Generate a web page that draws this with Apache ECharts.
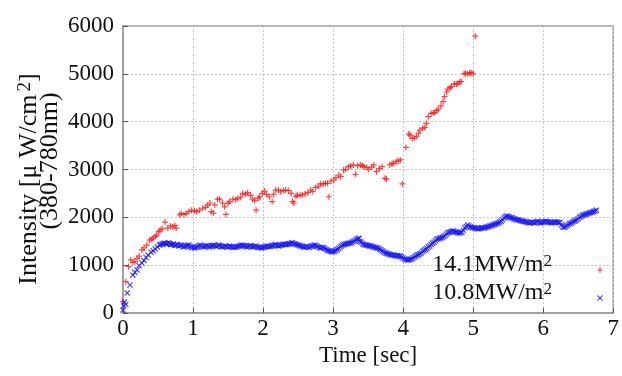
<!DOCTYPE html>
<html>
<head>
<meta charset="utf-8">
<script src="https://cdn.jsdelivr.net/npm/echarts@6/dist/echarts.min.js"></script>
<style>
  html, body { margin: 0; padding: 0; background: #fff; }
  #chart { width: 622px; height: 376px; }
</style>
</head>
<body>
<div id="chart"></div>
<script>
// 14.1MW/m2, [time sec, intensity]
var series141 = [
  [0.00, 236], [0.04, 655], [0.08, 970], [0.11, 1110], [0.14, 1060], [0.17, 1070],
  [0.20, 1140], [0.23, 1190], [0.27, 1320], [0.30, 1360], [0.34, 1420], [0.38, 1525],
  [0.41, 1540], [0.43, 1565], [0.46, 1600], [0.48, 1630], [0.51, 1700], [0.53, 1735],
  [0.56, 1760], [0.60, 1900], [0.64, 1775], [0.68, 1820], [0.71, 1800], [0.74, 1830],
  [0.76, 1775], [0.81, 2050], [0.83, 2080], [0.87, 2060], [0.90, 2080], [0.94, 2120],
  [0.98, 2150], [1.02, 2130], [1.05, 2120], [1.09, 2150], [1.14, 2190], [1.18, 2210],
  [1.21, 2260], [1.24, 2300], [1.26, 2120], [1.29, 2090], [1.31, 2260], [1.35, 2380],
  [1.38, 2380], [1.42, 2300], [1.45, 2220], [1.47, 2060], [1.50, 2290], [1.52, 2330],
  [1.57, 2380], [1.61, 2370], [1.64, 2400], [1.68, 2420], [1.71, 2500], [1.75, 2480],
  [1.78, 2515], [1.82, 2460], [1.85, 2380], [1.88, 2350], [1.90, 2150], [1.93, 2400],
  [1.95, 2430], [1.99, 2500], [2.02, 2550], [2.05, 2480], [2.09, 2430], [2.13, 2330],
  [2.15, 2480], [2.18, 2570], [2.22, 2570], [2.25, 2535], [2.29, 2560], [2.32, 2570],
  [2.36, 2560], [2.40, 2500], [2.42, 2330], [2.44, 2300], [2.47, 2440], [2.49, 2465],
  [2.53, 2460], [2.56, 2470], [2.60, 2490], [2.64, 2520], [2.68, 2570], [2.71, 2540],
  [2.75, 2625], [2.79, 2650], [2.82, 2700], [2.86, 2700], [2.89, 2710], [2.92, 2710],
  [2.94, 2430], [2.97, 2760], [3.01, 2780], [3.04, 2830], [3.08, 2885], [3.11, 2850],
  [3.15, 2990], [3.18, 3000], [3.22, 3060], [3.25, 3075], [3.29, 3095], [3.32, 2900],
  [3.35, 3080], [3.39, 3095], [3.42, 3080], [3.44, 3060], [3.48, 3040], [3.51, 3000],
  [3.55, 3050], [3.58, 3095], [3.62, 2955], [3.66, 3020], [3.70, 3060], [3.74, 2815],
  [3.76, 2800], [3.81, 3095], [3.84, 3120], [3.86, 3130], [3.90, 3160], [3.93, 3180],
  [3.96, 3200], [3.99, 2700], [4.04, 3460], [4.08, 3740], [4.10, 3720], [4.13, 3650],
  [4.16, 3660], [4.19, 3690], [4.22, 3760], [4.24, 3825], [4.28, 3860], [4.31, 3880],
  [4.33, 3965], [4.36, 4105], [4.40, 4175], [4.43, 4180], [4.45, 4190], [4.48, 4230],
  [4.50, 4260], [4.54, 4330], [4.57, 4420], [4.59, 4525], [4.62, 4620], [4.64, 4680],
  [4.67, 4710], [4.69, 4735], [4.73, 4790], [4.76, 4780], [4.78, 4800], [4.81, 4830],
  [4.83, 4840], [4.87, 5000], [4.89, 5010], [4.92, 5000], [4.95, 5020], [4.97, 5025],
  [5.00, 5000], [5.03, 5790]
]

// 10.8MW/m2
var series108 = [
  [0.00, 60], [0.01, 150], [0.02, 230], [0.04, 180], [0.06, 420], [0.10, 585],
  [0.14, 790], [0.17, 850], [0.20, 900], [0.23, 990], [0.27, 1045], [0.30, 1100],
  [0.33, 1160], [0.36, 1210], [0.40, 1270], [0.43, 1300], [0.46, 1340], [0.49, 1380],
  [0.52, 1420], [0.56, 1440], [0.60, 1460], [0.63, 1440], [0.67, 1450], [0.70, 1430],
  [0.74, 1410], [0.78, 1430], [0.82, 1420], [0.86, 1380], [0.90, 1400], [0.94, 1420],
  [0.98, 1370], [1.02, 1360], [1.06, 1380], [1.10, 1420], [1.14, 1380], [1.18, 1400],
  [1.22, 1390], [1.26, 1400], [1.30, 1420], [1.34, 1390], [1.38, 1410], [1.42, 1380],
  [1.46, 1400], [1.50, 1380], [1.54, 1390], [1.58, 1370], [1.62, 1380], [1.66, 1400],
  [1.70, 1420], [1.74, 1400], [1.78, 1390], [1.82, 1410], [1.86, 1380], [1.90, 1400],
  [1.94, 1370], [1.98, 1360], [2.02, 1380], [2.06, 1400], [2.10, 1390], [2.14, 1410],
  [2.18, 1430], [2.22, 1400], [2.26, 1420], [2.30, 1440], [2.34, 1430], [2.38, 1450],
  [2.42, 1470], [2.46, 1440], [2.50, 1420], [2.54, 1400], [2.58, 1380], [2.62, 1390],
  [2.66, 1370], [2.70, 1400], [2.74, 1420], [2.78, 1390], [2.82, 1360], [2.86, 1370],
  [2.90, 1330], [2.94, 1300], [2.98, 1280], [3.02, 1290], [3.06, 1330], [3.10, 1380],
  [3.14, 1420], [3.18, 1440], [3.22, 1460], [3.26, 1470], [3.30, 1500], [3.34, 1540],
  [3.37, 1565], [3.40, 1480], [3.44, 1430], [3.48, 1420], [3.52, 1400], [3.56, 1390],
  [3.60, 1370], [3.64, 1360], [3.68, 1320], [3.72, 1280], [3.76, 1250], [3.80, 1230],
  [3.84, 1210], [3.88, 1200], [3.92, 1200], [3.96, 1190], [4.00, 1150], [4.04, 1120],
  [4.08, 1110], [4.12, 1130], [4.16, 1170], [4.20, 1210], [4.24, 1240], [4.28, 1290],
  [4.32, 1330], [4.36, 1380], [4.40, 1430], [4.44, 1480], [4.48, 1540], [4.52, 1565],
  [4.56, 1580], [4.60, 1620], [4.64, 1680], [4.68, 1700], [4.72, 1715], [4.76, 1690],
  [4.80, 1670], [4.84, 1690], [4.88, 1780], [4.92, 1840], [4.96, 1800], [5.00, 1780],
  [5.04, 1770], [5.08, 1760], [5.12, 1780], [5.16, 1775], [5.20, 1800], [5.24, 1820],
  [5.28, 1840], [5.32, 1860], [5.36, 1880], [5.40, 1920], [5.44, 1985], [5.48, 2030],
  [5.52, 2000], [5.56, 1990], [5.60, 1960], [5.64, 1950], [5.68, 1930], [5.72, 1920],
  [5.76, 1900], [5.80, 1880], [5.84, 1900], [5.88, 1880], [5.92, 1920], [5.96, 1880],
  [6.00, 1900], [6.04, 1920], [6.08, 1900], [6.12, 1880], [6.16, 1900], [6.20, 1900],
  [6.24, 1890], [6.28, 1800], [6.32, 1810], [6.36, 1850], [6.40, 1880], [6.44, 1920],
  [6.48, 1950], [6.52, 2000], [6.56, 2040], [6.60, 2060], [6.64, 2080], [6.68, 2100],
  [6.72, 2120], [6.76, 2150],
  // in-between frames
  [0.54, 1430], [0.58, 1460], [0.62, 1450], [0.65, 1470], [0.68, 1430], [0.72, 1440],
  [0.76, 1420], [0.80, 1400], [0.84, 1410], [0.88, 1390], [0.92, 1410], [0.96, 1390],
  [1.00, 1380], [1.04, 1370], [1.08, 1400], [1.12, 1400], [1.16, 1390], [1.20, 1410],
  [1.24, 1380], [1.28, 1410], [1.32, 1400], [1.36, 1420], [1.40, 1390], [1.44, 1390],
  [1.48, 1390], [1.52, 1400], [1.56, 1380], [1.60, 1380], [1.64, 1390], [1.68, 1410],
  [1.72, 1410], [1.76, 1380], [1.80, 1400], [1.84, 1390], [1.88, 1390], [1.92, 1380],
  [1.96, 1370], [2.00, 1370], [2.04, 1390], [2.08, 1390], [2.12, 1400], [2.16, 1420],
  [2.20, 1410], [2.24, 1410], [2.28, 1430], [2.32, 1430], [2.36, 1440], [2.40, 1460],
  [2.44, 1450], [2.48, 1430], [2.52, 1410], [2.56, 1390], [2.60, 1380], [2.64, 1380],
  [2.68, 1390], [2.72, 1410], [2.76, 1400], [2.80, 1370], [2.84, 1370], [2.88, 1350],
  [2.92, 1310], [2.96, 1290], [3.00, 1280], [3.04, 1310], [3.08, 1350], [3.12, 1400],
  [3.16, 1430], [3.20, 1450], [3.24, 1460], [3.28, 1490], [3.32, 1520], [3.36, 1550],
  [3.38, 1500], [3.42, 1450], [3.46, 1420], [3.50, 1410], [3.54, 1400], [3.58, 1380],
  [3.62, 1360], [3.66, 1340], [3.70, 1300], [3.74, 1260], [3.78, 1240], [3.82, 1220],
  [3.86, 1210], [3.90, 1190], [3.94, 1190], [3.98, 1170], [4.02, 1130], [4.06, 1110],
  [4.10, 1120], [4.14, 1150], [4.18, 1190], [4.22, 1220], [4.26, 1260], [4.30, 1310],
  [4.34, 1350], [4.38, 1400], [4.42, 1460], [4.46, 1510], [4.50, 1550], [4.54, 1570],
  [4.58, 1600], [4.62, 1650], [4.66, 1690], [4.70, 1710], [4.74, 1700], [4.78, 1680],
  [4.82, 1680], [4.86, 1730], [4.90, 1810], [4.94, 1820], [4.98, 1790], [5.02, 1780],
  [5.06, 1760], [5.10, 1770], [5.14, 1780], [5.18, 1790], [5.22, 1810], [5.26, 1830],
  [5.30, 1850], [5.34, 1870], [5.38, 1900], [5.42, 1950], [5.46, 2010], [5.50, 2020],
  [5.54, 1990], [5.58, 1970], [5.62, 1950], [5.66, 1940], [5.70, 1920], [5.74, 1910],
  [5.78, 1890], [5.82, 1890], [5.86, 1890], [5.90, 1900], [5.94, 1900], [5.98, 1890],
  [6.02, 1910], [6.06, 1910], [6.10, 1890], [6.14, 1890], [6.18, 1900], [6.22, 1890],
  [6.26, 1840], [6.30, 1790], [6.34, 1830], [6.38, 1870], [6.42, 1900], [6.46, 1930],
  [6.50, 1970], [6.54, 2020], [6.58, 2050], [6.62, 2070], [6.66, 2090], [6.70, 2110],
  [6.74, 2130]
]

var seriesNames = ['14.1MW/m2', '10.8MW/m2']

var font = '"Liberation Serif", "DejaVu Serif", serif'
var plusPath = 'path://M2,0H3V2H5V3H3V5H2V3H0V2H2Z'
var crossPath = 'path://M0,0.7L0.7,0L2.5,1.8L4.3,0L5,0.7L3.2,2.5L5,4.3L4.3,5L2.5,3.2L0.7,5L0,4.3L1.8,2.5Z'
var red = '#ff1414'
var blue = '#1414ff'

var chart = echarts.init(document.getElementById('chart'), null, { renderer: 'canvas' })

chart.setOption({
  animation: false,
  backgroundColor: '#fff',
  grid: {
    left: 123,
    right: 6,
    top: 26,
    bottom: 63,
    show: true,
    borderColor: '#9a9a9a',
    borderWidth: 1.5
  },
  legend: {
    orient: 'vertical',
    right: 14,
    top: 248,
    align: 'right',
    itemGap: 4,
    itemWidth: 6,
    itemHeight: 6,
    selectedMode: false,
    data: [
      { name: seriesNames[0], icon: plusPath, itemStyle: { color: red } },
      { name: seriesNames[1], icon: crossPath, itemStyle: { color: blue } }
    ],
    formatter: function (name) {
      return '{t|' + name.slice(0, -1) + '}{sup|2}{pad| }'
    },
    textStyle: {
      fontFamily: font,
      color: '#111',
      padding: [0, 0, 10, 0],
      rich: {
        t: { fontSize: 24, fontFamily: font, color: '#111', lineHeight: 24, verticalAlign: 'bottom' },
        sup: { fontSize: 17, fontFamily: font, color: '#111', lineHeight: 24, verticalAlign: 'top' },
        pad: { width: 40, fontSize: 10 }
      }
    }
  },
  xAxis: {
    type: 'value',
    min: 0,
    max: 7,
    interval: 1,
    name: 'Time [sec]',
    nameLocation: 'middle',
    nameGap: 31,
    nameTextStyle: { fontFamily: font, fontSize: 23, color: '#111' },
    axisLine: { lineStyle: { color: '#9a9a9a', width: 1.5 } },
    axisTick: { inside: true, length: 5, lineStyle: { color: '#555' } },
    axisLabel: { fontFamily: font, fontSize: 23, color: '#111', margin: 4 },
    splitLine: { lineStyle: { color: '#c4c4c4', type: [2, 2], width: 1 } }
  },
  yAxis: {
    type: 'value',
    min: 0,
    max: 6000,
    interval: 1000,
    axisLine: { show: true, lineStyle: { color: '#9a9a9a', width: 1.5 } },
    axisTick: { show: true, inside: true, length: 5, lineStyle: { color: '#555' } },
    axisLabel: {
      fontFamily: font,
      fontSize: 23,
      color: '#111',
      margin: 9,
      formatter: function (v) { return String(v) }
    },
    splitLine: { lineStyle: { color: '#c4c4c4', type: [2, 2], width: 1 } }
  },
  graphic: [
    {
      type: 'text',
      x: 29,
      y: 179,
      rotation: Math.PI / 2,
      style: {
        text: '{t|Intensity [μ W/cm}{sup|2}{t|]}',
        align: 'center',
        verticalAlign: 'middle',
        rich: {
          t: { fontSize: 26, fontFamily: font, fill: '#111', lineHeight: 26, verticalAlign: 'bottom' },
          sup: { fontSize: 19, fontFamily: font, fill: '#111', lineHeight: 26, verticalAlign: 'top', padding: [0, 0, 0, 3] }
        }
      }
    },
    {
      type: 'text',
      x: 50,
      y: 161,
      rotation: Math.PI / 2,
      style: {
        text: '(380-780nm)',
        align: 'center',
        verticalAlign: 'middle',
        font: '26px ' + font,
        fill: '#111'
      }
    }
  ],
  series: [
    {
      name: seriesNames[0],
      type: 'scatter',
      data: series141,
      symbol: plusPath,
      symbolSize: 6,
      itemStyle: { color: red }
    },
    {
      name: seriesNames[1],
      type: 'scatter',
      data: series108,
      symbol: crossPath,
      symbolSize: 6,
      itemStyle: { color: blue }
    }
  ]
})
</script>
</body>
</html>
